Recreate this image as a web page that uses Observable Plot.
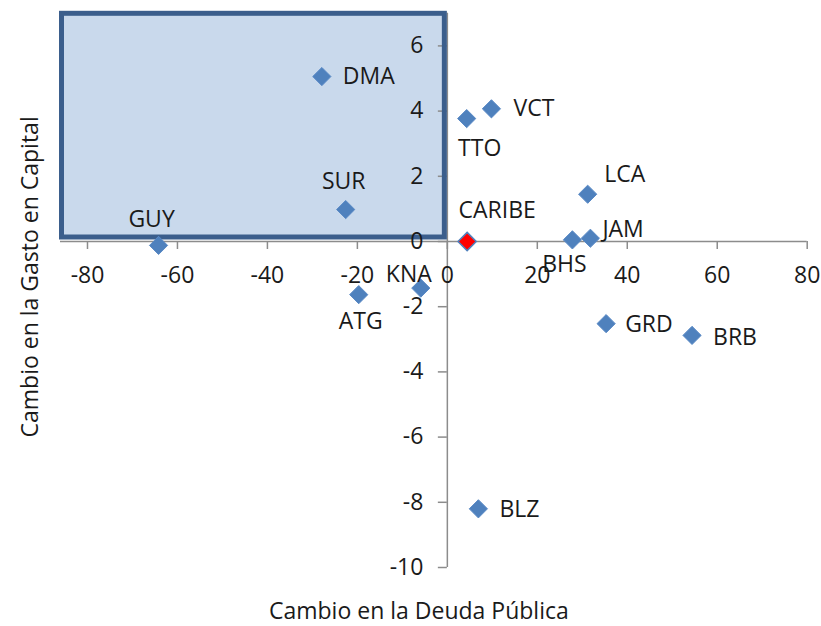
<!DOCTYPE html>
<html><head><meta charset="utf-8">
<script src="https://cdn.jsdelivr.net/npm/d3@7"></script>
<script src="https://cdn.jsdelivr.net/npm/@observablehq/plot@0.6"></script>
<style>body{margin:0;background:#fff} #chart{width:821px;height:626px}</style>
</head><body><div id="chart"></div>
<script>
const codes = ["DMA","VCT","TTO","LCA","SUR","CARIBE","JAM","BHS","GUY","KNA","ATG","GRD","BRB","BLZ"];
const deuda = [-27.9, 9.8, 4.3, 31.2, -22.6, 4.4, 31.8, 27.8, -64.2, -5.9, -19.7, 35.3, 54.4, 6.9];
const gasto = [5.06, 4.07, 3.77, 1.45, 0.98, 0.0, 0.1, 0.05, -0.12, -1.43, -1.63, -2.52, -2.88, -8.2];
const xTicks = [-80, -60, -40, -20, 0, 20, 40, 60, 80];
const yTicks = [-10, -8, -6, -4, -2, 0, 2, 4, 6];
const xDomain = [-86, 80];
const yDomain = [-10, 7];
const highlight = [{x1: -86, x2: 0, y1: 0, y2: 7}];
const xTitle = "Cambio en la Deuda Pública";
const yTitle = "Cambio en la Gasto en Capital";
// label placement (layout): [textAnchor, dx, dy]
const labelPlace = {DMA:["start",21,0], VCT:["start",22,0], TTO:["middle",13,30], LCA:["middle",37,-20],
  SUR:["middle",-2,-28], CARIBE:["middle",30,-31], JAM:["start",12,-9], BHS:["middle",-8,25],
  GUY:["middle",-7,-26], KNA:["middle",-12,-13], ATG:["middle",2,27], GRD:["start",19,1],
  BRB:["start",21,2], BLZ:["start",21,1]};

const rows = codes.map((c, i) => ({code: c, x: deuda[i], y: gasto[i]}));
const axisColor = "#8c8c8c";
const txt = "#1a1a1a";

const labelMarks = rows.map(d => {
  const [a, dx, dy] = labelPlace[d.code];
  return Plot.text([d], {x: "x", y: "y", text: "code", textAnchor: a, dx, dy, fill: txt});
});

const chart = Plot.plot({
  width: 821, height: 626,
  marginLeft: 60, marginRight: 14.3, marginTop: 12.8, marginBottom: 59,
  style: {fontFamily: "'Open Sans', sans-serif", fontSize: "23px", background: "#fff"},
  x: {domain: xDomain, axis: null},
  y: {domain: yDomain, axis: null},
  marks: [
    Plot.rect(highlight, {x1: "x1", x2: "x2", y1: "y1", y2: "y2", fill: "#C9D9EC",
      insetLeft: 1.5, insetRight: 2.5, insetBottom: 4, insetTop: 0.5}),
    Plot.ruleY([0], {x1: xDomain[0], x2: xDomain[1], stroke: axisColor, strokeWidth: 1.5}),
    Plot.ruleX([0], {y1: yDomain[0], y2: yDomain[1], stroke: axisColor, strokeWidth: 1.5}),
    Plot.ruleX(xTicks, {x: d => d, y1: 0, y2: 0, insetBottom: -8, stroke: axisColor, strokeWidth: 1.5}),
    Plot.ruleY(yTicks, {y: d => d, x1: 0, x2: 0, insetLeft: -9, stroke: axisColor, strokeWidth: 1.5}),
    Plot.rect(highlight, {x1: "x1", x2: "x2", y1: "y1", y2: "y2", fill: "none", stroke: "#3B5E8C", strokeWidth: 5,
      insetLeft: 1.5, insetRight: 2.5, insetBottom: 4, insetTop: 0.5}),
    Plot.text(xTicks, {x: d => d, y: 0, text: d => String(d), dy: 34, fill: txt}),
    Plot.text(yTicks, {x: 0, y: d => d, text: d => String(d), textAnchor: "end", dx: -24, fill: txt}),
    Plot.dot(rows.filter(d => d.code !== "CARIBE"), {x: "x", y: "y", symbol: "diamond2", r: 8.2,
      fill: "#4F81BD", stroke: "#5A8AC6", strokeWidth: 1}),
    Plot.dot(rows.filter(d => d.code === "CARIBE"), {x: "x", y: "y", symbol: "diamond2", r: 8.2,
      fill: "#FF0000", stroke: "#4F81BD", strokeWidth: 1.5}),
    ...labelMarks,
    Plot.text([xTitle], {frameAnchor: "bottom", textAnchor: "middle", lineAnchor: "middle", dx: -15, dy: 44, fill: txt}),
    Plot.text([yTitle], {frameAnchor: "left", textAnchor: "middle", lineAnchor: "middle", rotate: -90, dx: -30, dy: -13.5, fill: txt})
  ]
});
document.getElementById("chart").append(chart);
</script>
</body></html>
